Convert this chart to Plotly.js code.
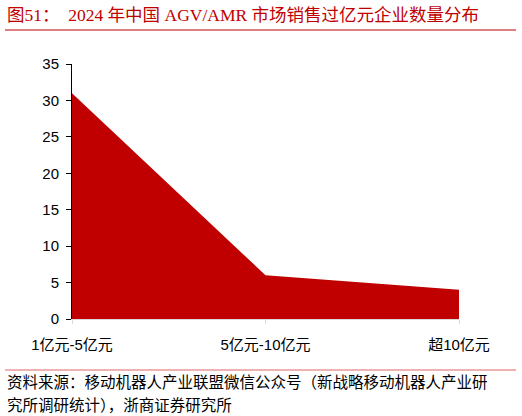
<!DOCTYPE html>
<html>
<head>
<meta charset="utf-8">
<script src="https://cdn.plot.ly/plotly-3.0.1.min.js"></script>
<style>
  html, body { margin: 0; padding: 0; background: #fff; }
  #chart { width: 522px; height: 416px; }
</style>
</head>
<body>
<div id="chart"></div>
<script>
// revenue bands and number of companies in each
const categories = ["1亿元-5亿元", "5亿元-10亿元", "超10亿元"];
const companyCounts = [31, 6, 4];
const yTicks = [0, 5, 10, 15, 20, 25, 30, 35];

const titleText = "图51：  2024 年中国 AGV/AMR 市场销售过亿元企业数量分布";
const sourceLines = [
  "资料来源：移动机器人产业联盟微信公众号（新战略移动机器人产业研",
  "究所调研统计），浙商证券研究所",
];

const RED = "#C00000";
const serif = "'Liberation Serif', 'Noto Sans CJK SC', serif";
const sans = "'Liberation Sans', Arial, 'Noto Sans CJK SC', sans-serif";

// plot area is 387 x 255 px, used to turn pixel offsets into paper coords
const PW = 387, PH = 255, ML = 72;

Plotly.newPlot("chart", [{
  type: "scatter",
  mode: "lines",
  x: categories,
  y: companyCounts,
  fill: "tozeroy",
  fillcolor: RED,
  line: { color: RED, width: 0 },
  hoverinfo: "x+y",
}], {
  width: 522,
  height: 416,
  paper_bgcolor: "#fff",
  plot_bgcolor: "#fff",
  showlegend: false,
  margin: { t: 64, b: 97, l: ML, r: 63 },
  font: { family: sans, size: 15, color: "#000" },
  xaxis: {
    type: "category",
    range: [0, 2],
    showgrid: false,
    zeroline: false,
    showline: true,
    linecolor: "#d9d9d9",
    linewidth: 1,
    ticks: "outside",
    ticklen: 4,
    tickcolor: "#d9d9d9",
    ticklabelstandoff: 8,
    tickfont: { family: sans, size: 15, color: "#000" },
  },
  yaxis: {
    range: [0, 35],
    tickvals: yTicks,
    showgrid: false,
    zeroline: false,
    showline: true,
    linecolor: "#000",
    linewidth: 1,
    ticks: "outside",
    ticklen: 5,
    tickcolor: "#000",
    ticklabelstandoff: 4,
    tickfont: { family: sans, size: 15, color: "#000" },
  },
  annotations: [
    {
      xref: "paper", yref: "paper",
      x: -(ML - 5) / PW, y: 1 + 49 / PH,
      xanchor: "left", yanchor: "middle",
      text: titleText, showarrow: false,
      font: { family: serif, size: 17.5, color: RED },
    },
    {
      xref: "paper", yref: "paper",
      x: -(ML - 5) / PW, y: -63 / PH,
      xanchor: "left", yanchor: "middle",
      text: sourceLines[0], showarrow: false,
      font: { family: serif, size: 15.5, color: "#000" },
    },
    {
      xref: "paper", yref: "paper",
      x: -(ML - 5) / PW, y: -86 / PH,
      xanchor: "left", yanchor: "middle",
      text: sourceLines[1], showarrow: false,
      font: { family: serif, size: 15.5, color: "#000" },
    },
  ],
  shapes: [
    {
      type: "line", xref: "paper", yref: "paper",
      x0: -(ML - 5) / PW, x1: 1 + 57 / PW, y0: 1 + 34 / PH, y1: 1 + 34 / PH,
      line: { color: RED, width: 1.2 },
    },
    {
      type: "line", xref: "paper", yref: "paper",
      x0: -(ML - 5) / PW, x1: 1 + 57 / PW, y0: -51 / PH, y1: -51 / PH,
      line: { color: "#E06666", width: 1.2 },
    },
  ],
}, { displayModeBar: false });
</script>
</body>
</html>
